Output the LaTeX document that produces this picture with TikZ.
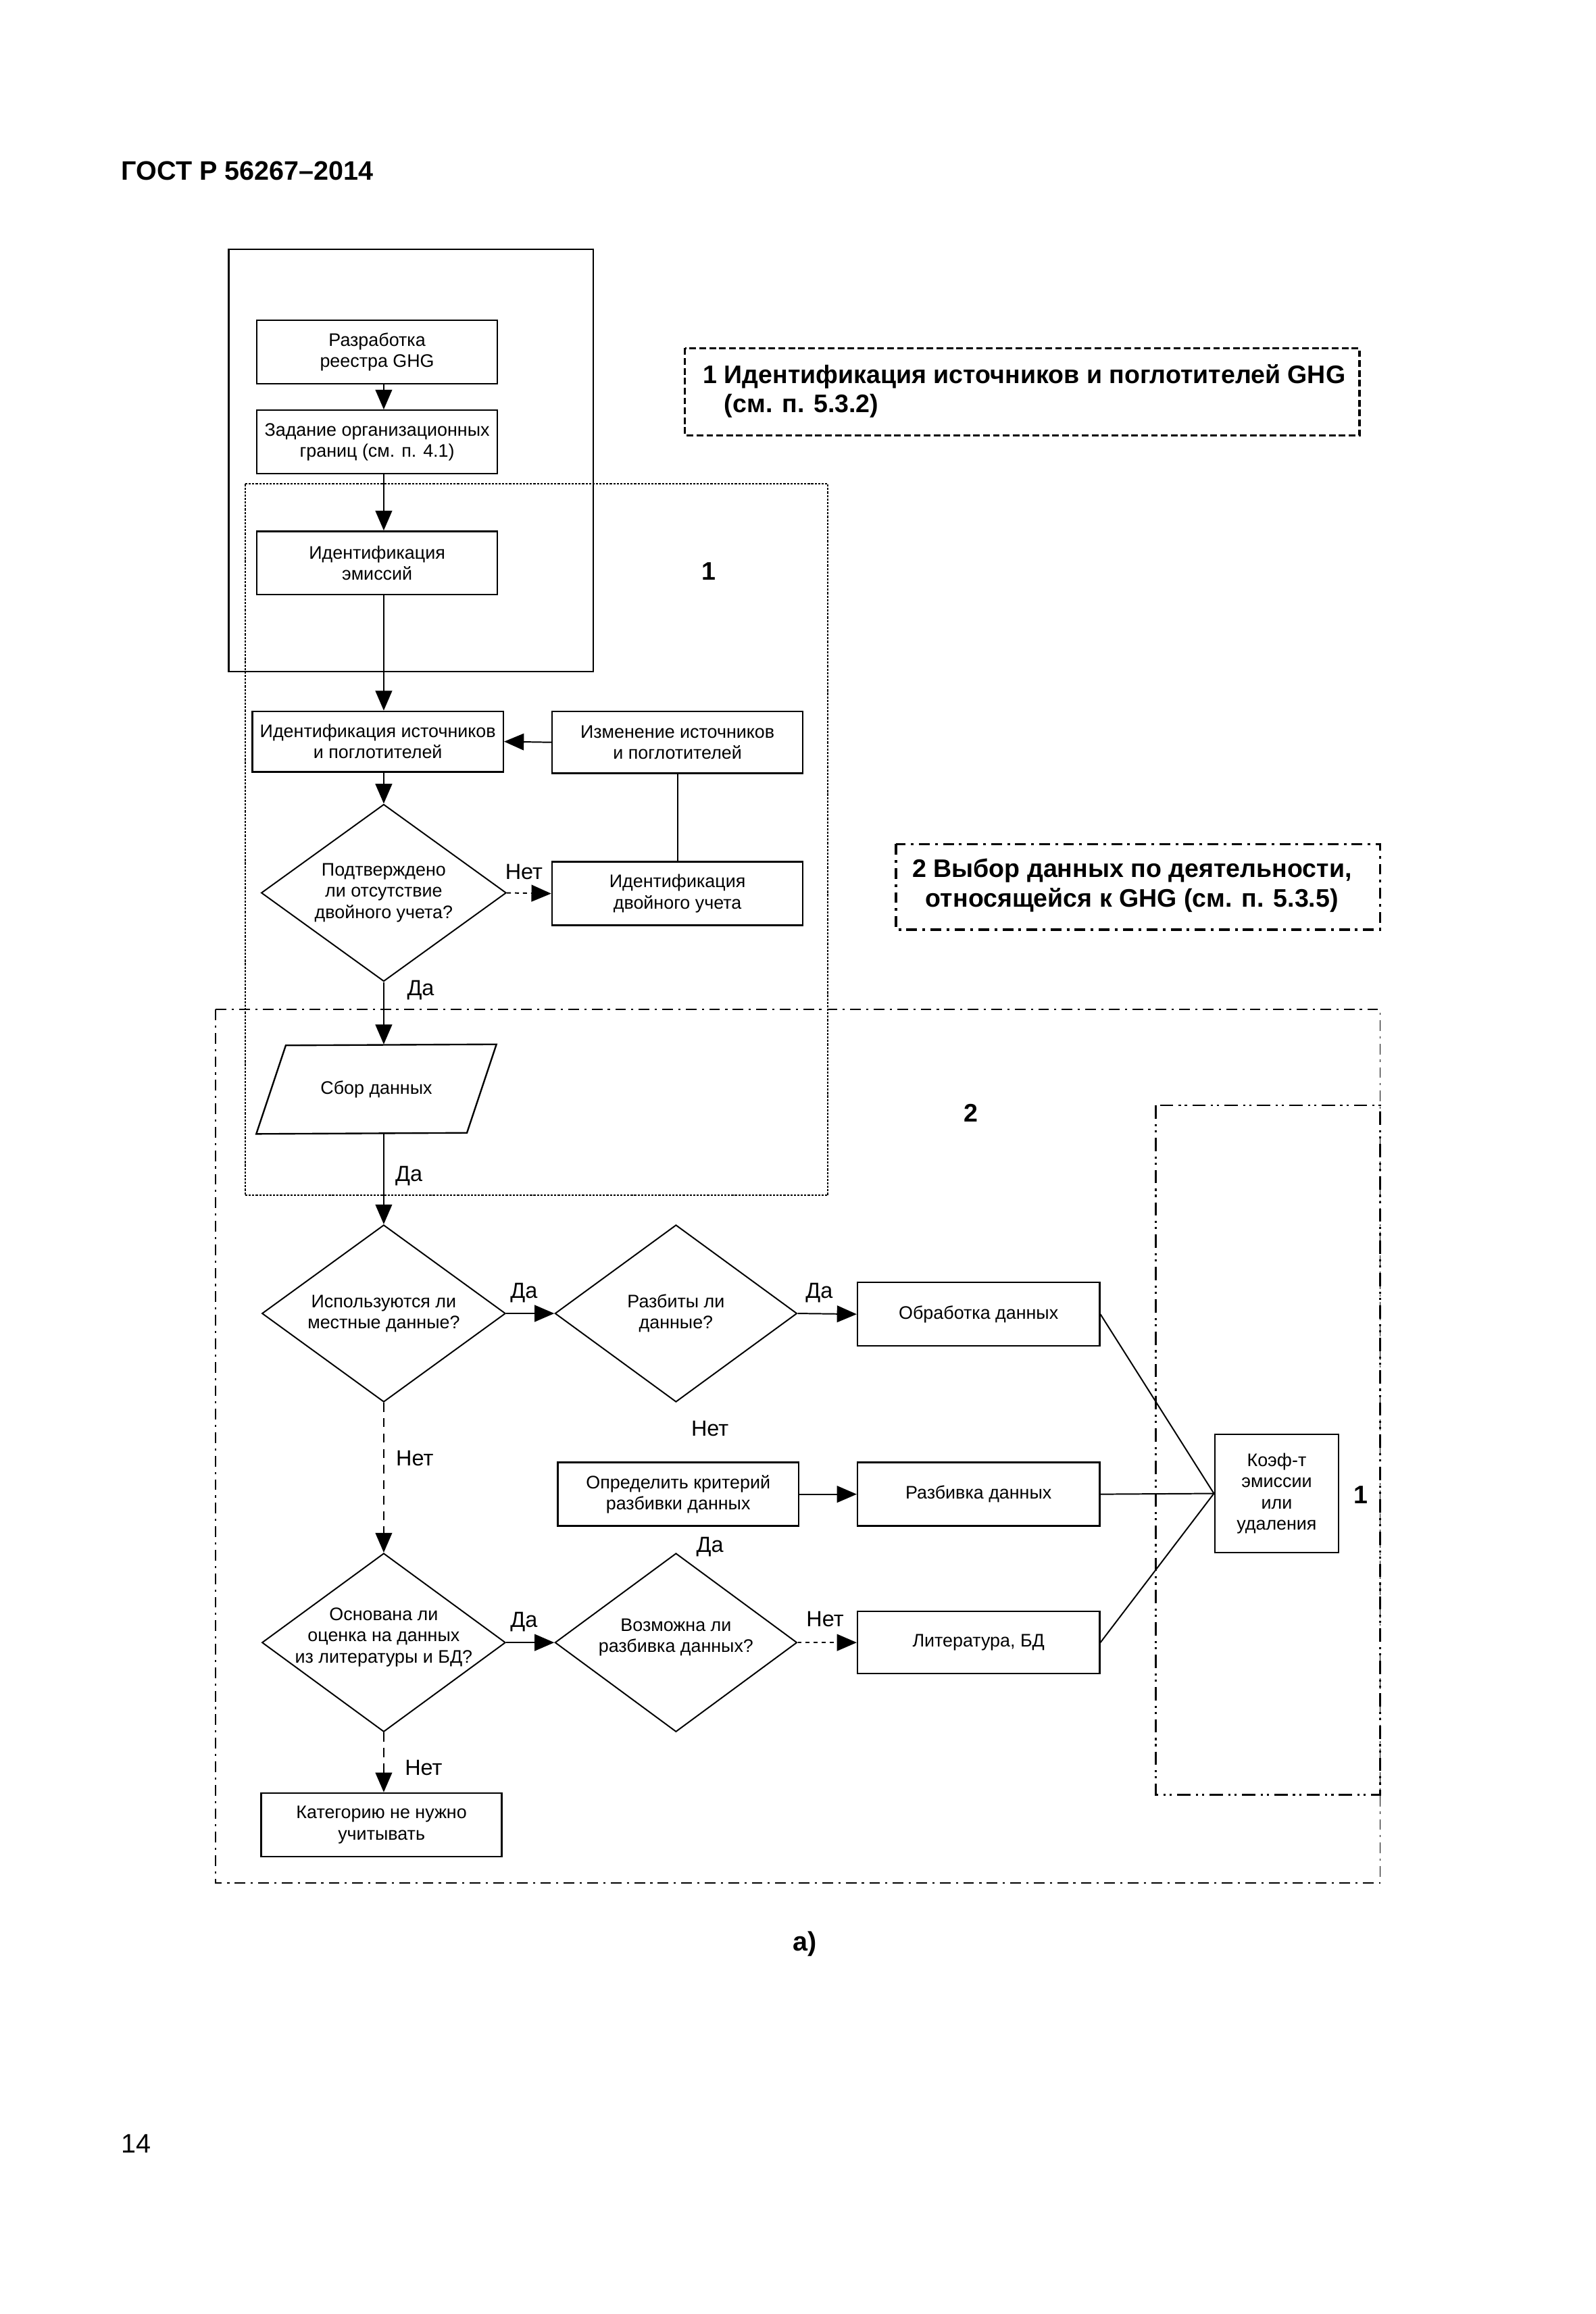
\documentclass[tikz,border=0pt]{standalone}
\usepackage{fontspec}
\setmainfont{Liberation Sans}
\usepackage{tikz}
\usetikzlibrary{arrows.meta,shapes.geometric}

\newcommand{\boxfont}{\fontsize{6.8}{7.9}\selectfont}
\newcommand{\lblfont}{\fontsize{8.2}{9.5}\selectfont}
\newcommand{\hdrfont}{\bfseries\fontsize{9.5}{11}\selectfont}
\newcommand{\upx}{0.019426cm}

\begin{document}
\begin{tikzpicture}[x=\upx, y=-\upx,
    box/.style={draw, line width=0.6pt, inner sep=1pt, minimum width=163*\upx, minimum height=43*\upx, align=center, font=\boxfont},
    decision/.style={draw, diamond, line width=0.5pt, inner sep=0pt, minimum width=165*\upx, minimum height=120*\upx},
    qtext/.style={align=center, font=\boxfont, inner sep=0pt},
    arr/.style={line width=0.5pt, -{Triangle[length=2.6mm, width=2.2mm]}},
    yesno/.style={font=\lblfont, inner sep=0pt},
    tag/.style={font=\hdrfont, inner sep=0pt},
    dashline/.style={dash pattern=on 3.4pt off 2.4pt},
    dotline/.style={dash pattern=on 1.5pt off 1.5pt},
    dotframe/.style={line width=0.5pt, dash pattern=on 0.8pt off 0.5pt},
    dashdotframe/.style={line width=0.4pt, dash pattern=on 4pt off 2pt on 0.8pt off 2pt},
    dashdotdotframe/.style={line width=0.7pt, dash pattern=on 5pt off 2pt on 0.8pt off 1.5pt on 0.8pt off 2pt},
]
    \path[fill=white, use as bounding box] (0,0) rectangle (1081,1568);

    \node[anchor=base west, font=\bfseries\fontsize{10}{12}\selectfont, inner sep=0pt] (gost) at (82,122) {ГОСТ Р 56267–2014};
    \node[anchor=base west, font=\fontsize{10}{12}\selectfont, inner sep=0pt] (pagenum) at (82,1459) {14};
    \node[anchor=base west, font=\bfseries\fontsize{10}{12}\selectfont, inner sep=0pt] (caption) at (537,1322) {а)};

    \draw[line width=0.6pt] (155,169) rectangle (402,455);
    \draw[dotframe] (166,328) rectangle (561,810);
    \draw[dashdotframe] (146,684) rectangle (935,1276);
    \draw[dashdotdotframe] (783,749) rectangle (935,1216);

    \draw[line width=0.9pt, dash pattern=on 2.5pt off 1.2pt] (464,236) rectangle (921,295);
    \node[tag, anchor=west, align=left] (hdronetext) at (476,265) {1 Идентификация источников и поглотителей GHG\\\hphantom{1 }(см. п. 5.3.2)};
    \draw[line width=0.9pt, dash pattern=on 4pt off 2pt on 1pt off 2pt] (607,572) rectangle (935,630);
    \node[tag, align=center] (hdrtwotext) at (767,600) {2 Выбор данных по деятельности,\\относящейся к GHG (см. п. 5.3.5)};

    \node[tag] (tagone) at (480,387) {1};
    \node[tag] (tagtwo) at (658,754) {2};
    \node[tag] (tagthree) at (922,1013) {1};

    \coordinate (spine) at (260,0);
    \node[box] (registry) at (255.5,238.5) {Разработка\\реестра GHG};
    \node[box] (bounds) at (255.5,299.5) {Задание организационных\\границ (см. п. 4.1)};
    \node[box] (emis) at (255.5,381.5) {Идентификация\\эмиссий};
    \node[box, minimum width=170*\upx, minimum height=41*\upx] (srcs) at (256,502.5) {Идентификация источников\\и поглотителей};
    \node[box, minimum width=170*\upx, minimum height=42*\upx] (change) at (459,503) {Изменение источников\\и поглотителей};
    \node[decision, minimum width=166*\upx, label={[qtext]center:{Подтверждено\\ли отсутствие\\двойного учета?}}] (dbl) at (260,605) {};
    \node[box, minimum width=170*\upx] (dblid) at (459,605.5) {Идентификация\\двойного учета};
    \node[minimum width=162*\upx, minimum height=60*\upx, inner sep=0pt, font=\boxfont] (collect) at (255,738) {Сбор данных};
    \draw[line width=0.6pt] (collect.south west) -- ++(20,-60) -- (collect.north east) -- ++(-20,60) -- cycle;

    \node[decision, label={[qtext]center:{Используются ли\\местные данные?}}] (local) at (260,890) {};
    \node[decision, minimum width=164*\upx, label={[qtext]center:{Разбиты ли\\данные?}}] (issplit) at (458,890) {};
    \node[box, minimum width=164*\upx] (proc) at (663,890.5) {Обработка данных};
    \node[box] (crit) at (459.5,1012.5) {Определить критерий\\разбивки данных};
    \node[box, minimum width=164*\upx] (splitting) at (663,1012.5) {Разбивка данных};
    \node[decision, minimum height=121*\upx, label={[qtext, yshift=2pt]center:{Основана ли\\оценка на данных\\из литературы и БД?}}] (lit) at (260,1113) {};
    \node[decision, minimum width=164*\upx, minimum height=121*\upx, label={[qtext, yshift=2pt]center:{Возможна ли\\разбивка данных?}}] (cansplit) at (458,1113) {};
    \node[box, minimum width=164*\upx, minimum height=42*\upx] (litdb) at (663,1113) {Литература, БД};
    \node[box] (skip) at (258.5,1236.5) {Категорию не нужно\\учитывать};
    \node[box, minimum width=84*\upx, minimum height=80*\upx] (coef) at (865,1012) {Коэф-т\\эмиссии\\или\\удаления};

    \draw[arr] (registry.south -| spine) -- (bounds.north -| spine);
    \draw[arr] (bounds.south -| spine) -- (emis.north -| spine);
    \draw[arr] (emis.south -| spine) -- (srcs.north -| spine);
    \draw[arr] (srcs.south -| spine) -- (dbl.north);
    \draw[arr] (change.west) -- (srcs.east);
    \draw[line width=0.5pt] (change.south) -- (dblid.north);
    \draw[arr, dotline] (dbl.east) -- (dblid.west);
    \draw[arr] (dbl.south) -- (dbl.south |- collect.north);
    \draw[arr] (local.north |- collect.south) -- (local.north);
    \draw[arr] (local.east) -- (issplit.west);
    \draw[arr] (issplit.east) -- (proc.west);
    \draw[arr, dashline] (local.south) -- (lit.north);
    \draw[arr] (crit.east) -- (splitting.west);
    \draw[arr] (lit.east) -- (cansplit.west);
    \draw[arr, dotline] (cansplit.east) -- (litdb.west);
    \draw[arr, dashline] (lit.south) -- (lit.south |- skip.north);
    \foreach \n in {proc, splitting, litdb}
        \draw[line width=0.5pt] (\n.east) -- (coef.west);

    \node[yesno] (nodbl) at (355,591) {Нет};
    \node[yesno] (yesdbl) at (285,671) {Да};
    \node[yesno] (yescollect) at (277,797) {Да};
    \node[yesno] (yeslocal) at (355,876) {Да};
    \node[yesno] (yessplit) at (555,876) {Да};
    \node[yesno] (nosplit) at (481,968) {Нет};
    \node[yesno] (nolocal) at (281,988) {Нет};
    \node[yesno] (yescan) at (481,1048) {Да};
    \node[yesno] (yeslit) at (355,1099) {Да};
    \node[yesno] (nocan) at (559,1097) {Нет};
    \node[yesno] (nolit) at (287,1198) {Нет};
\end{tikzpicture}
\end{document}
